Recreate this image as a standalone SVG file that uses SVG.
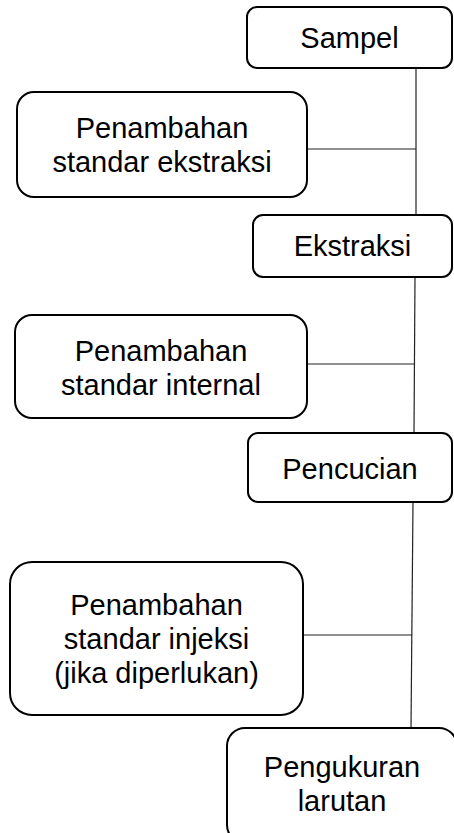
<svg xmlns="http://www.w3.org/2000/svg" width="454" height="833" viewBox="0 0 454 833">
<style>
.box{fill:#fff;stroke:#000;stroke-width:2}
.lbl{font-family:"Liberation Sans",Arial,sans-serif;font-size:29px;fill:#000;text-anchor:middle}
.conn{stroke:#222;stroke-width:1.2;fill:none}
</style>
<rect width="454" height="833" fill="#fff"/>
<g id="connectors">
<line class="conn" x1="416" y1="68" x2="416" y2="215"/>
<line class="conn" x1="307" y1="149" x2="416" y2="149"/>
<line class="conn" x1="415" y1="277" x2="414" y2="433"/>
<line class="conn" x1="307" y1="364" x2="414" y2="364"/>
<line class="conn" x1="413" y1="502" x2="411" y2="728"/>
<line class="conn" x1="303" y1="635" x2="412" y2="635"/>
</g>
<g id="sampel">
<rect class="box" x="247" y="7" width="205" height="61" rx="10"/>
<text class="lbl" x="349.5" y="48">Sampel</text>
</g>
<g id="std-ekstraksi">
<rect class="box" x="17" y="92" width="290" height="105" rx="17"/>
<text class="lbl" x="162" y="138">Penambahan</text>
<text class="lbl" x="162" y="172">standar ekstraksi</text>
</g>
<g id="ekstraksi">
<rect class="box" x="253" y="215" width="199" height="62" rx="10"/>
<text class="lbl" x="352.5" y="256">Ekstraksi</text>
</g>
<g id="std-internal">
<rect class="box" x="15" y="315" width="292" height="103" rx="17"/>
<text class="lbl" x="161" y="361">Penambahan</text>
<text class="lbl" x="161" y="395">standar internal</text>
</g>
<g id="pencucian">
<rect class="box" x="248" y="433" width="204" height="69" rx="10"/>
<text class="lbl" x="350" y="479">Pencucian</text>
</g>
<g id="std-injeksi">
<rect class="box" x="10" y="562" width="293" height="153" rx="22"/>
<text class="lbl" x="156.5" y="615">Penambahan</text>
<text class="lbl" x="156.5" y="649">standar injeksi</text>
<text class="lbl" x="156.5" y="683">(jika diperlukan)</text>
</g>
<g id="pengukuran">
<rect class="box" x="227" y="728" width="230" height="115" rx="18"/>
<text class="lbl" x="342" y="777">Pengukuran</text>
<text class="lbl" x="342" y="811">larutan</text>
</g>
</svg>
